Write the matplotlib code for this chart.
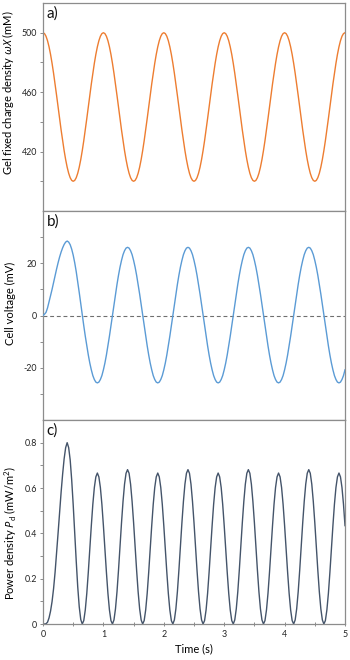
import matplotlib
matplotlib.use("Agg")
import matplotlib.pyplot as plt
from matplotlib.ticker import FixedLocator, MultipleLocator

plt.rcParams['font.family'] = ['Lato', 'DejaVu Sans']
plt.rcParams['mathtext.fontset'] = 'custom'
plt.rcParams['mathtext.rm'] = 'Lato'
plt.rcParams['mathtext.it'] = 'Noto Sans:italic'
plt.rcParams['axes.unicode_minus'] = False

# time samples (s), every 0.025 s from 0 to 5
time_s = [round(0.025 * i, 3) for i in range(201)]

# a) gel fixed charge density (mM)
charge_density = [
    500.0, 499.4, 497.6, 494.6, 490.5, 485.4, 479.4, 472.7, 465.5, 457.8, 450.0, 442.2, 434.5, 427.3, 420.6, 414.6, 409.5, 405.4, 402.4, 400.6,
    400.0, 400.6, 402.4, 405.4, 409.5, 414.6, 420.6, 427.3, 434.5, 442.2, 450.0, 457.8, 465.5, 472.7, 479.4, 485.4, 490.5, 494.6, 497.6, 499.4,
    500.0, 499.4, 497.6, 494.6, 490.5, 485.4, 479.4, 472.7, 465.5, 457.8, 450.0, 442.2, 434.5, 427.3, 420.6, 414.6, 409.5, 405.4, 402.4, 400.6,
    400.0, 400.6, 402.4, 405.4, 409.5, 414.6, 420.6, 427.3, 434.5, 442.2, 450.0, 457.8, 465.5, 472.7, 479.4, 485.4, 490.5, 494.6, 497.6, 499.4,
    500.0, 499.4, 497.6, 494.6, 490.5, 485.4, 479.4, 472.7, 465.5, 457.8, 450.0, 442.2, 434.5, 427.3, 420.6, 414.6, 409.5, 405.4, 402.4, 400.6,
    400.0, 400.6, 402.4, 405.4, 409.5, 414.6, 420.6, 427.3, 434.5, 442.2, 450.0, 457.8, 465.5, 472.7, 479.4, 485.4, 490.5, 494.6, 497.6, 499.4,
    500.0, 499.4, 497.6, 494.6, 490.5, 485.4, 479.4, 472.7, 465.5, 457.8, 450.0, 442.2, 434.5, 427.3, 420.6, 414.6, 409.5, 405.4, 402.4, 400.6,
    400.0, 400.6, 402.4, 405.4, 409.5, 414.6, 420.6, 427.3, 434.5, 442.2, 450.0, 457.8, 465.5, 472.7, 479.4, 485.4, 490.5, 494.6, 497.6, 499.4,
    500.0, 499.4, 497.6, 494.6, 490.5, 485.4, 479.4, 472.7, 465.5, 457.8, 450.0, 442.2, 434.5, 427.3, 420.6, 414.6, 409.5, 405.4, 402.4, 400.6,
    400.0, 400.6, 402.4, 405.4, 409.5, 414.6, 420.6, 427.3, 434.5, 442.2, 450.0, 457.8, 465.5, 472.7, 479.4, 485.4, 490.5, 494.6, 497.6, 499.4,
    500.0,
]

# b) cell voltage (mV)
cell_voltage = [
    0.0, 0.5, 1.2, 2.9, 5.2, 7.6, 10.0, 12.6, 15.2, 17.8, 20.2, 22.4, 24.3,
    25.9, 27.2, 28.1, 28.5, 28.1, 27.1, 25.4, 23.1, 20.2, 16.8, 12.9, 8.8, 4.5,
    0.2, -3.9, -7.9, -11.6, -15.1, -18.2, -20.8, -23.0, -24.5, -25.5, -25.8, -25.5, -24.5, -23.0, -20.8, -18.2, -15.1, -11.6, -7.9, -3.9,
    0.2, 4.2, 8.2, 11.9, 15.4, 18.5, 21.1, 23.3, 24.8, 25.8, 26.1, 25.8, 24.8, 23.3, 21.1, 18.5, 15.4, 11.9, 8.2, 4.2,
    0.2, -3.9, -7.9, -11.6, -15.1, -18.2, -20.8, -23.0, -24.5, -25.5, -25.8, -25.5, -24.5, -23.0, -20.8, -18.2, -15.1, -11.6, -7.9, -3.9,
    0.2, 4.2, 8.2, 11.9, 15.4, 18.5, 21.1, 23.3, 24.8, 25.8, 26.1, 25.8, 24.8, 23.3, 21.1, 18.5, 15.4, 11.9, 8.2, 4.2,
    0.2, -3.9, -7.9, -11.6, -15.1, -18.2, -20.8, -23.0, -24.5, -25.5, -25.8, -25.5, -24.5, -23.0, -20.8, -18.2, -15.1, -11.6, -7.9, -3.9,
    0.2, 4.2, 8.2, 11.9, 15.4, 18.5, 21.1, 23.3, 24.8, 25.8, 26.1, 25.8, 24.8, 23.3, 21.1, 18.5, 15.4, 11.9, 8.2, 4.2,
    0.2, -3.9, -7.9, -11.6, -15.1, -18.2, -20.8, -23.0, -24.5, -25.5, -25.8, -25.5, -24.5, -23.0, -20.8, -18.2, -15.1, -11.6, -7.9, -3.9,
    0.2, 4.2, 8.2, 11.9, 15.4, 18.5, 21.1, 23.3, 24.8, 25.8, 26.1, 25.8, 24.8, 23.3, 21.1, 18.5, 15.4, 11.9, 8.2, 4.2,
    0.2, -3.9, -7.9, -11.6, -15.1, -18.2, -20.8, -23.0, -24.5, -25.5, -25.8, -25.5, -24.5, -23.0, -20.8,
]

# c) power density (mW/m^2)
power_density = [
    0.000, 0.000, 0.001, 0.008, 0.027, 0.057, 0.099, 0.156, 0.228, 0.312, 0.402, 0.494, 0.582,
    0.661, 0.729, 0.778, 0.800, 0.778, 0.724, 0.636, 0.526, 0.402, 0.278, 0.164, 0.076, 0.020,
    0.000, 0.015, 0.062, 0.135, 0.228, 0.331, 0.434, 0.528, 0.602, 0.649, 0.666, 0.649, 0.602, 0.528, 0.434, 0.331, 0.228, 0.135, 0.062, 0.015,
    0.000, 0.018, 0.067, 0.142, 0.237, 0.342, 0.447, 0.541, 0.617, 0.665, 0.681, 0.665, 0.617, 0.541, 0.447, 0.342, 0.237, 0.142, 0.067, 0.018,
    0.000, 0.015, 0.062, 0.135, 0.228, 0.331, 0.434, 0.528, 0.602, 0.649, 0.666, 0.649, 0.602, 0.528, 0.434, 0.331, 0.228, 0.135, 0.062, 0.015,
    0.000, 0.018, 0.067, 0.142, 0.237, 0.342, 0.447, 0.541, 0.617, 0.665, 0.681, 0.665, 0.617, 0.541, 0.447, 0.342, 0.237, 0.142, 0.067, 0.018,
    0.000, 0.015, 0.062, 0.135, 0.228, 0.331, 0.434, 0.528, 0.602, 0.649, 0.666, 0.649, 0.602, 0.528, 0.434, 0.331, 0.228, 0.135, 0.062, 0.015,
    0.000, 0.018, 0.067, 0.142, 0.237, 0.342, 0.447, 0.541, 0.617, 0.665, 0.681, 0.665, 0.617, 0.541, 0.447, 0.342, 0.237, 0.142, 0.067, 0.018,
    0.000, 0.015, 0.062, 0.135, 0.228, 0.331, 0.434, 0.528, 0.602, 0.649, 0.666, 0.649, 0.602, 0.528, 0.434, 0.331, 0.228, 0.135, 0.062, 0.015,
    0.000, 0.018, 0.067, 0.142, 0.237, 0.342, 0.447, 0.541, 0.617, 0.665, 0.681, 0.665, 0.617, 0.541, 0.447, 0.342, 0.237, 0.142, 0.067, 0.018,
    0.000, 0.015, 0.062, 0.135, 0.228, 0.331, 0.434, 0.528, 0.602, 0.649, 0.666, 0.649, 0.602, 0.528, 0.434,
]

x_ticks = [0, 1, 2, 3, 4, 5]
a_ticks = [420, 460, 500]
b_ticks = [-20, 0, 20]
c_ticks = [0, 0.2, 0.4, 0.6, 0.8]
c_tick_labels = ['0', '0.2', '0.4', '0.6', '0.8']

W, H = 350, 660
fig = plt.figure(figsize=(W / 100, H / 100), dpi=100)

left = 43 / W
width = (345 - 43) / W
def rect(top_px, bot_px):
    return [left, (H - bot_px) / H, width, (bot_px - top_px) / H]

ax_a = fig.add_axes(rect(3, 211))
ax_b = fig.add_axes(rect(211, 420))
ax_c = fig.add_axes(rect(420, 624))

spine_col = '#8c8c8c'
tick_font = 6.4
label_font = 8
for ax in (ax_a, ax_b, ax_c):
    for s in ax.spines.values():
        s.set_color(spine_col)
        s.set_linewidth(0.9)
    ax.set_xlim(0, 5)
    ax.tick_params(axis='y', which='both', direction='out', length=2.2,
                   width=0.7, color=spine_col, labelsize=tick_font, pad=2,
                   labelcolor='#222222')
    ax.tick_params(axis='x', which='both', direction='inout', length=3,
                   width=0.7, color=spine_col, labelsize=tick_font, pad=3,
                   labelcolor='#222222')
    ax.xaxis.set_major_locator(FixedLocator(x_ticks))
    ax.xaxis.set_minor_locator(MultipleLocator(0.5))

for ax in (ax_a, ax_b):
    ax.tick_params(axis='x', which='both', bottom=False, labelbottom=False)

# a)
ax_a.plot(time_s, charge_density, color='#ED7D31', lw=1.0)
ax_a.set_ylim(380, 520)
ax_a.yaxis.set_major_locator(FixedLocator(a_ticks))
ax_a.yaxis.set_minor_locator(FixedLocator([400, 440, 480]))
ax_a.set_ylabel(r'Gel fixed charge density $\omega X$ (mM)', fontsize=label_font)
ax_a.yaxis.set_label_coords(-0.088, 0.567)

# b)
ax_b.plot(time_s, cell_voltage, color='#5B9BD5', lw=1.0, zorder=3)
ax_b.axhline(0, color='#6f6f6f', lw=0.8, ls=(0, (3.5, 2.5)), zorder=2)
ax_b.set_ylim(-40, 40)
ax_b.yaxis.set_major_locator(FixedLocator(b_ticks))
ax_b.yaxis.set_minor_locator(FixedLocator([-30, -10, 10, 30]))
ax_b.set_ylabel('Cell voltage (mV)', fontsize=label_font)
ax_b.yaxis.set_label_coords(-0.088, 0.56)

# c)
ax_c.plot(time_s, power_density, color='#44546A', lw=1.0)
ax_c.set_ylim(0, 0.9)
ax_c.yaxis.set_major_locator(FixedLocator(c_ticks))
ax_c.set_yticklabels(c_tick_labels)
ax_c.yaxis.set_minor_locator(FixedLocator([0.1, 0.3, 0.5, 0.7]))
ax_c.set_xticklabels([str(v) for v in x_ticks])
ax_c.set_ylabel(r'Power density $P_\mathrm{d}$ (mW/m$^2$)', fontsize=label_font)
ax_c.yaxis.set_label_coords(-0.080, 0.444)
ax_c.set_xlabel('Time (s)', fontsize=label_font, labelpad=3)

for ax, lab in ((ax_a, 'a)'), (ax_b, 'b)'), (ax_c, 'c)')):
    ax.text(0.012, 0.985, lab, transform=ax.transAxes, fontsize=11,
            va='top', ha='left', color='#111111')

fig.savefig('out.png', dpi=100)
